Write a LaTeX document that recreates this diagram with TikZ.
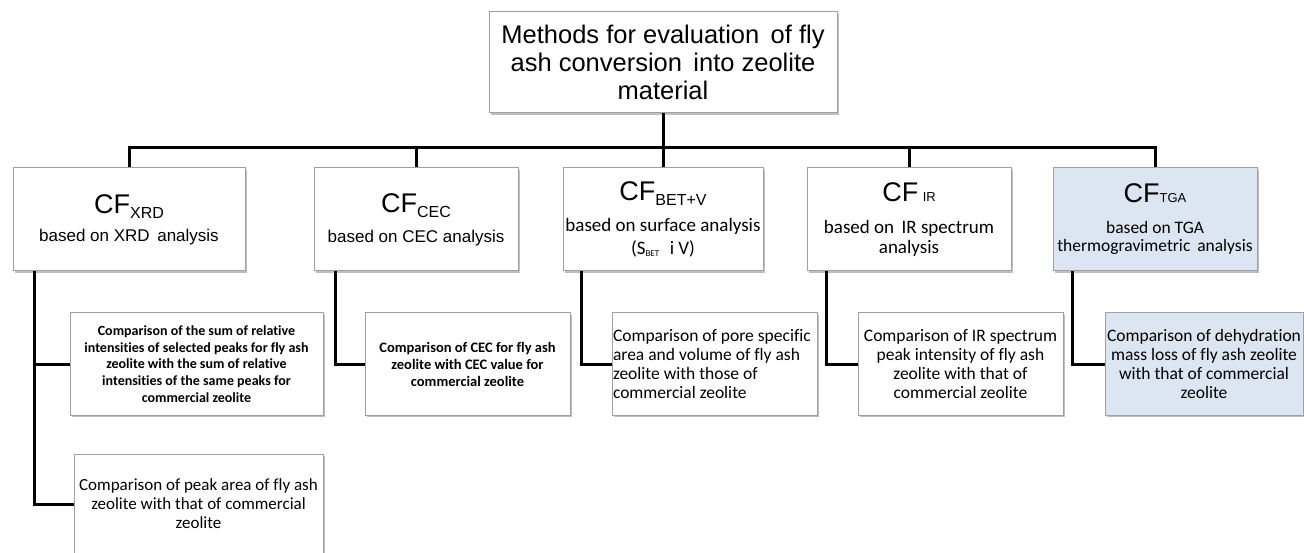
\documentclass[tikz,border=0pt]{standalone}
\usepackage{fontspec}
\setmainfont{Liberation Sans}
\newfontfamily\calf[Ligatures=NoCommon]{Carlito}
\usetikzlibrary{shadows}
\definecolor{boxline}{HTML}{A0A0A0}
\definecolor{tgafill}{HTML}{DCE6F2}
\newcommand{\cfsub}[1]{\raisebox{-5pt}{\fontsize{16}{16}\selectfont #1}}
\newcommand{\cfsc}[1]{{\fontsize{13}{13}\selectfont #1}}
\newcommand{\cfbig}{\fontsize{27}{27}\selectfont}
\begin{document}
\begin{tikzpicture}[x=1pt,y=-1pt,
  box/.style={draw=boxline, line width=1pt, fill=white, rectangle, inner sep=0pt, align=center,
    drop shadow={shadow xshift=1.5pt, shadow yshift=-2pt, fill=black, opacity=0.25}},
  topbox/.style={box, minimum width=348pt, minimum height=101pt, font=\fontsize{25.5}{28}\selectfont},
  cfbox/.style={box, minimum width=204pt, minimum height=103pt, font=\fontsize{17}{28}\selectfont},
  leafbox/.style={box, minimum width=205pt, minimum height=102pt, font=\calf\fontsize{17.5}{18.7}\selectfont},
  smallleaf/.style={font=\calf\bfseries\fontsize{14}{16.8}\selectfont},
  tgastyle/.style={fill=tgafill},
  conn/.style={line width=3pt, black, line join=miter}
]
\clip (0,0) rectangle (1304,553);
\fill[white] (0,0) rectangle (1304,553);

% top
\node[topbox] (top) at (663,62.5) {Methods for evaluation\, of fly\\ash conversion\, into zeolite\\material};

% level 2
\node[cfbox, minimum width=232pt] (xrd) at (129,219.5) {{\cfbig CF\cfsub{XRD}}\\based on XRD\, analysis};
\node[cfbox] (cec) at (416,219.5) {{\cfbig CF\cfsub{CEC}}\\[2pt]based on CEC analysis};
\node[cfbox, minimum width=200pt] (bet) at (663,219.5) {{\cfbig CF\cfsub{BET+V}}\\[3pt]{\calf\fontsize{19}{19}\selectfont based on surface analysis}\\[-5pt]{\calf\fontsize{19}{19}\selectfont (S\raisebox{-2pt}{\fontsize{9}{9}\selectfont BET}\,\, i V)}};
\node[cfbox] (ir) at (909,219.5) {{\cfbig CF\,\cfsc{IR}}\\[4pt]{\calf\fontsize{19}{19}\selectfont based on\, IR spectrum}\\[-8pt]{\calf\fontsize{19}{19}\selectfont analysis}};
\node[cfbox, tgastyle] (tga) at (1155,219.5) {{\cfbig CF\cfsc{TGA}}\\[3pt]{\calf\fontsize{17.5}{17.5}\selectfont based on TGA}\\[-10pt]{\calf\fontsize{17.5}{17.5}\selectfont thermogravimetric\, analysis}};

% level 3
\node[leafbox, smallleaf, minimum width=253pt] (x1) at (196.5,364) {Comparison of the sum of relative\\intensities of selected peaks for fly ash\\zeolite with the sum of relative\\intensities of the same peaks for\\commercial zeolite};
\node[leafbox, minimum width=249pt, minimum height=100pt, font=\calf\fontsize{17}{19}\selectfont] (x2) at (198.5,504) {Comparison of peak area of fly ash\\zeolite with that of commercial\\zeolite};
\node[leafbox, smallleaf, font=\calf\bfseries\fontsize{14.5}{17}\selectfont] (cecc) at (467.5,364) {Comparison of CEC for fly ash\\zeolite with CEC value for\\commercial zeolite};
\node[leafbox, align=flush left, text width=203pt] (betc) at (714.5,364) {Comparison of pore specific\\area and volume of fly ash\\zeolite with those of\\commercial zeolite};
\node[leafbox] (irc) at (960.5,364) {Comparison of IR spectrum\\peak intensity of fly ash\\zeolite with that of\\commercial zeolite};
\node[leafbox, tgastyle, minimum width=198pt] (tgac) at (1204,364) {Comparison of dehydration\\mass loss of fly ash zeolite\\with that of commercial\\zeolite};

% connectors
\coordinate (bar) at (663,148);
\draw[conn] (top.south) -- (bet.north);
\draw[conn] (xrd.north) |- (bar) -| (tga.north);
\draw[conn] (cec.north) -- (cec.north |- bar);
\draw[conn] (ir.north) -- (ir.north |- bar);

\draw[conn] ([xshift=22pt]xrd.south west) |- (x2.west);
\draw[conn] ([xshift=22pt]xrd.south west |- x1.west) -- (x1.west);
\draw[conn] ([xshift=22pt]cec.south west) |- (cecc.west);
\draw[conn] ([xshift=19pt]bet.south west) |- (betc.west);
\draw[conn] ([xshift=20pt]ir.south west) |- (irc.west);
\draw[conn] ([xshift=20pt]tga.south west) |- (tgac.west);
\end{tikzpicture}
\end{document}
